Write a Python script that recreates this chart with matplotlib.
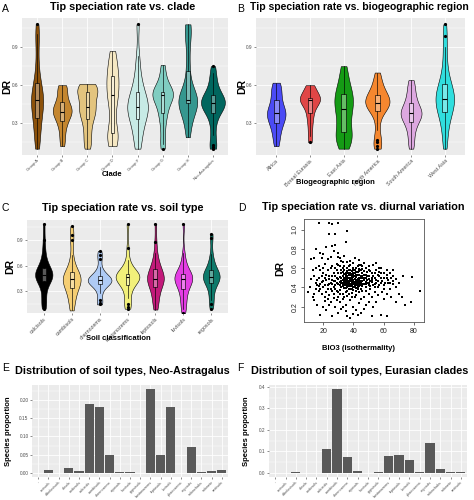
import matplotlib
matplotlib.use("Agg")
import matplotlib.pyplot as plt
import numpy as np

plt.rcParams['font.family'] = ['Liberation Sans', 'DejaVu Sans']

# ---------------- data ----------------
clades = ["Group A", "Group B", "Group C", "Group D", "Group F", "Group G", "Group H", "Neo-Astragalus"]
clade_colors = ['#8C510A', '#C4862F', '#E3C47E', '#F6E8C3', '#C7EAE5', '#80CDC1', '#35978F', '#01665E']
clade_widths = [0.48, 0.75, 0.80, 0.48, 0.82, 0.82, 0.75, 0.95]
clade_dr = [
    [0.10, 0.14, 0.20, 0.26, 0.30, 0.33, 0.37, 0.41, 0.44, 0.46, 0.47, 0.49, 0.51, 0.53, 0.56, 0.58, 0.63, 0.70, 0.80, 0.95, 1.00, 1.08],
    [0.12, 0.17, 0.22, 0.27, 0.30, 0.32, 0.35, 0.37, 0.38, 0.39, 0.39, 0.41, 0.42, 0.44, 0.46, 0.47, 0.50, 0.54, 0.57, 0.59, 0.60],
    [0.10, 0.14, 0.19, 0.24, 0.29, 0.33, 0.36, 0.38, 0.40, 0.42, 0.43, 0.46, 0.49, 0.52, 0.54, 0.55, 0.57, 0.58, 0.59, 0.60, 0.61],
    [0.12, 0.15, 0.18, 0.20, 0.21, 0.22, 0.30, 0.40, 0.46, 0.50, 0.52, 0.55, 0.58, 0.62, 0.65, 0.67, 0.70, 0.74, 0.78, 0.83, 0.87],
    [0.10, 0.15, 0.21, 0.26, 0.30, 0.33, 0.36, 0.39, 0.40, 0.42, 0.43, 0.45, 0.47, 0.49, 0.52, 0.55, 0.59, 0.64, 0.72, 0.83, 1.08],
    [0.10, 0.14, 0.22, 0.30, 0.35, 0.38, 0.42, 0.45, 0.48, 0.50, 0.52, 0.52, 0.53, 0.54, 0.55, 0.55, 0.57, 0.60, 0.64, 0.70, 0.76],
    [0.19, 0.26, 0.33, 0.38, 0.43, 0.46, 0.46, 0.47, 0.47, 0.48, 0.48, 0.49, 0.50, 0.52, 0.58, 0.71, 0.80, 0.95, 1.02, 1.06, 1.08],
    [0.10, 0.11, 0.13, 0.21, 0.28, 0.33, 0.38, 0.40, 0.41, 0.43, 0.44, 0.45, 0.46, 0.47, 0.47, 0.48, 0.49, 0.50, 0.52, 0.54, 0.57, 0.61, 0.65, 0.70, 0.75],
]

regions = ["Africa", "Boreal Eurasia", "East Asia", "North America", "South America", "West Asia"]
region_colors = ['#4B4BF5', '#E04646', '#159B15', '#F5872F', '#DDA8E0', '#30DEDE']
region_widths = [0.55, 0.60, 0.55, 0.72, 0.62, 0.55]
region_dr = [
    [0.12, 0.17, 0.21, 0.25, 0.28, 0.30, 0.32, 0.34, 0.36, 0.37, 0.38, 0.39, 0.41, 0.43, 0.45, 0.48, 0.51, 0.54, 0.57, 0.60, 0.62],
    [0.15, 0.20, 0.26, 0.31, 0.35, 0.38, 0.41, 0.44, 0.46, 0.47, 0.48, 0.49, 0.49, 0.50, 0.50, 0.50, 0.53, 0.55, 0.57, 0.59, 0.60],
    [0.10, 0.13, 0.16, 0.19, 0.21, 0.23, 0.27, 0.31, 0.35, 0.38, 0.41, 0.44, 0.46, 0.48, 0.51, 0.53, 0.56, 0.59, 0.63, 0.69, 0.75],
    [0.10, 0.12, 0.15, 0.17, 0.25, 0.32, 0.40, 0.41, 0.42, 0.43, 0.44, 0.45, 0.46, 0.47, 0.48, 0.49, 0.50, 0.51, 0.52, 0.54, 0.56, 0.59, 0.62, 0.66, 0.70],
    [0.10, 0.15, 0.20, 0.25, 0.28, 0.31, 0.33, 0.35, 0.36, 0.37, 0.38, 0.39, 0.40, 0.42, 0.44, 0.46, 0.49, 0.52, 0.56, 0.60, 0.64],
    [0.10, 0.17, 0.24, 0.30, 0.35, 0.37, 0.39, 0.42, 0.44, 0.46, 0.48, 0.49, 0.49, 0.51, 0.53, 0.55, 0.58, 0.60, 0.61, 0.66, 0.72, 0.80, 0.90, 0.99, 1.08],
]

soils = ["calcisols", "cambisols", "chernozems", "kastanozems", "leptosols", "luvisols", "regosols"]
soil_colors = ['#000000', '#F5CE73', '#AFCBF5', '#F2F07A', '#C21A7A', '#E33DE3', '#0E7A6B']
soil_widths = [0.62, 0.64, 0.85, 0.85, 0.60, 0.64, 0.60]
soil_dr = [
    [0.10, 0.14, 0.18, 0.25, 0.32, 0.38, 0.42, 0.44, 0.45, 0.46, 0.47, 0.48, 0.49, 0.50, 0.51, 0.52, 0.54, 0.55, 0.57, 0.60, 0.64, 0.70, 0.78, 0.90, 1.08],
    [0.08, 0.13, 0.19, 0.24, 0.28, 0.31, 0.34, 0.37, 0.39, 0.41, 0.42, 0.43, 0.44, 0.45, 0.47, 0.48, 0.50, 0.51, 0.53, 0.57, 0.63, 0.72, 0.90, 0.95, 1.06],
    [0.15, 0.17, 0.20, 0.28, 0.33, 0.36, 0.39, 0.40, 0.40, 0.41, 0.42, 0.42, 0.43, 0.43, 0.44, 0.45, 0.46, 0.47, 0.48, 0.50, 0.53, 0.58, 0.68, 0.72, 0.77],
    [0.10, 0.12, 0.15, 0.22, 0.28, 0.33, 0.37, 0.40, 0.42, 0.44, 0.45, 0.46, 0.47, 0.47, 0.48, 0.48, 0.49, 0.49, 0.50, 0.52, 0.55, 0.60, 0.66, 0.80, 1.08],
    [0.09, 0.14, 0.19, 0.24, 0.28, 0.32, 0.35, 0.38, 0.40, 0.42, 0.43, 0.44, 0.45, 0.46, 0.48, 0.50, 0.52, 0.54, 0.56, 0.59, 0.63, 0.68, 0.75, 0.88, 1.08],
    [0.05, 0.10, 0.15, 0.20, 0.25, 0.29, 0.33, 0.36, 0.38, 0.40, 0.42, 0.44, 0.45, 0.46, 0.46, 0.47, 0.48, 0.49, 0.50, 0.53, 0.56, 0.60, 0.66, 0.75, 1.08],
    [0.10, 0.15, 0.20, 0.26, 0.31, 0.36, 0.40, 0.42, 0.43, 0.44, 0.45, 0.46, 0.47, 0.48, 0.49, 0.50, 0.52, 0.53, 0.55, 0.58, 0.62, 0.67, 0.74, 0.92, 0.97],
]

# (BIO3, DR) pairs
diurnal_points = [
    (17,1.07),(24,1.07),(26,1.06),(30,1.07),(24,0.95),(28,0.95),(36,0.99),(35,0.87),(15,0.80),(18,0.76),
    (20,0.75),(22,0.82),(26,0.83),(28,0.84),(27,0.78),(30,0.76),(25,0.72),(14,0.70),(12,0.69),(19,0.70),
    (23,0.69),(31,0.70),(34,0.73),(38,0.67),(40,0.65),(33,0.66),(29,0.64),(17,0.62),(21,0.64),(45,0.63),
    (50,0.62),(55,0.65),(58,0.60),(62,0.58),(66,0.52),(73,0.52),(79,0.51),(84,0.36),(78,0.25),(68,0.25),
    (65,0.30),(70,0.45),(68,0.49),(60,0.55),(63,0.45),(59,0.35),(55,0.25),(52,0.30),(48,0.22),(58,0.11),
    (62,0.10),(52,0.10),(45,0.13),(40,0.12),(35,0.15),(30,0.13),(26,0.10),(18,0.11),(13,0.30),(11,0.40),
    (12,0.49),(10,0.35),(14,0.27),(16,0.22),(20,0.20),(22,0.16),(25,0.25),(28,0.20),(32,0.18),(36,0.10),
    (38,0.08),(42,0.17),(44,0.24),(38,0.27),(33,0.28),(30,0.30),(27,0.33),(22,0.35),(18,0.38),(15,0.45),
    (17,0.50),(20,0.55),(23,0.58),(25,0.60),(19,0.46),(21,0.42),(24,0.44),(26,0.48),(28,0.52),(27,0.40),
    (29,0.36),(31,0.42),(30,0.49),(32,0.55),(33,0.60),(34,0.50),(35,0.45),(36,0.40),(35,0.35),(37,0.55),
    (38,0.50),(39,0.46),(40,0.43),(41,0.52),(42,0.48),(37,0.45),(36,0.52),(38,0.58),(39,0.38),(40,0.55),
    (41,0.40),(42,0.56),(43,0.45),(44,0.50),(45,0.42),(46,0.55),(47,0.48),(48,0.40),(49,0.52),(50,0.45),
    (51,0.57),(52,0.50),(53,0.42),(54,0.55),(55,0.48),(56,0.40),(57,0.52),(58,0.45),(60,0.42),(62,0.50),
    (64,0.38),(66,0.43),(54,0.35),(50,0.33),(47,0.30),(44,0.35),(41,0.30),(43,0.38),(46,0.36),(48,0.60),
    (45,0.58),(43,0.62),(40,0.60),(37,0.62),(34,0.58),(31,0.62),(29,0.58),(27,0.55),(24,0.52),(22,0.48),
    (20,0.40),(23,0.38),(26,0.36),(29,0.45),(32,0.47),(33,0.43),(34,0.39),(36,0.48),(37,0.50),(38,0.44),
    (39,0.54),(40,0.48),(41,0.46),(42,0.42),(35,0.55),(36,0.57),(38,0.53),(39,0.50),(40,0.51),(37,0.47),
    (35,0.49),(34,0.46),(33,0.52),(32,0.40),(31,0.37),(30,0.55),(28,0.47),(26,0.43),(25,0.38),(24,0.32),
    (23,0.28),(21,0.30),(19,0.33),(17,0.36),(16,0.42),(14,0.52),(13,0.58),(15,0.60),(18,0.58),(37,0.33),
    (39,0.30),(42,0.32),(45,0.28),(35,0.22),(33,0.20),(31,0.25),(29,0.27),(40,0.20),(43,0.11),(47,0.18),
    (50,0.25),(53,0.20),(56,0.32),(60,0.28),(62,0.33),(64,0.55),(66,0.58),(68,0.40),(70,0.33),(72,0.30),
    (74,0.22),(57,0.60),(53,0.63),(47,0.65),(44,0.68),(41,0.70),(36,0.66),(32,0.67),(30,0.71),(39,0.41),
    (38,0.47),(41,0.49),(43,0.53),(44,0.46),(46,0.50),(45,0.47),(43,0.49),(42,0.51),(40,0.46),(39,0.44),
    (38,0.41),(37,0.38),(36,0.44),(35,0.51),(34,0.54),(33,0.48),(36,0.36),(40,0.37),(42,0.39),(44,0.41),
    (46,0.44),(48,0.46),(50,0.49),(52,0.46),(54,0.44),(56,0.47),(58,0.50),(49,0.56),(47,0.53),(51,0.41),
    (48,0.50),(46,0.59),(44,0.57),(55,0.58),(57,0.56),(59,0.47),(61,0.45),(63,0.48),(65,0.50),
    (30,0.44),(31,0.51),(32,0.45),(33,0.56),(34,0.42),(35,0.47),(36,0.50),(37,0.53),(38,0.49),(39,0.52),
    (40,0.44),(41,0.55),(42,0.46),(43,0.42),(44,0.53),(45,0.50),(46,0.47),(47,0.44),(48,0.53),(49,0.48),
    (31,0.46),(32,0.50),(33,0.45),(34,0.48),(35,0.42),(36,0.46),(37,0.43),(38,0.55),(39,0.48),(40,0.53),
    (41,0.44),(42,0.53),(43,0.47),(44,0.44),(45,0.52),(46,0.41),(47,0.57),(48,0.43),(50,0.52),(51,0.47),
    (29,0.50),(28,0.42),(27,0.47),(26,0.52),(25,0.45),(24,0.49),(23,0.42),(22,0.53),(21,0.50),(20,0.47),
    (19,0.52),(18,0.44),(17,0.41),(16,0.48),(15,0.38),(14,0.33),(21,0.26),(24,0.22),(27,0.29),(30,0.35),
    (33,0.33),(36,0.31),(39,0.34),(42,0.36),(45,0.38),(48,0.36),(51,0.38),(54,0.40),(57,0.42),(60,0.38),
    (26,0.62),(28,0.60),(30,0.63),(32,0.58),(34,0.62),(36,0.60),(38,0.63),(40,0.58),(42,0.60),(44,0.63),
    (46,0.62),(50,0.58),(52,0.55),(54,0.50),(56,0.53),(58,0.55),(60,0.50),(62,0.53),(64,0.45),(66,0.47),
    (36,0.42),(37,0.41),(38,0.38),(35,0.39),(34,0.44),(33,0.41),(41,0.42),(43,0.40),(44,0.48),(45,0.45),
    (35,0.53),(36,0.55),(37,0.58),(39,0.57),(40,0.40),(41,0.58),(42,0.44),(43,0.56),(44,0.59),(46,0.52),
    (47,0.50),(49,0.45),(50,0.42),(52,0.48),(53,0.52),(55,0.45),(28,0.38),(31,0.33),(34,0.30),(20,0.60),
]
bio3 = [p[0] for p in diurnal_points]
dr_diurnal = [p[1] for p in diurnal_points]

soil_types = ["-", "acrisols", "albeluvisols", "alisols", "andosols", "calcisols", "cambisols",
              "chernozems", "cryosols", "fluvisols", "gypsisols", "kastanozems", "leptosols",
              "luvisols", "phaeozems", "regosols", "solonchaks", "solonetz", "vertisols"]
prop_neo = [0.0, 0.008, 0.0, 0.013, 0.005, 0.190, 0.180, 0.050, 0.001, 0.003, 0.0, 0.230, 0.050,
            0.182, 0.0, 0.072, 0.003, 0.005, 0.008]
prop_eur = [0.0, 0.0, 0.005, 0.0, 0.0, 0.112, 0.390, 0.073, 0.010, 0.0, 0.002, 0.078, 0.085,
            0.058, 0.005, 0.138, 0.020, 0.005, 0.002]

# ---------------- figure ----------------
W, H = 474, 500
fig = plt.figure(figsize=(W / 100, H / 100), dpi=100)


def axes_px(l, t, r, b):
    return fig.add_axes([l / W, 1 - b / H, (r - l) / W, (b - t) / H])


def txt(x, y, s, **kw):
    fig.text(x / W, 1 - y / H, s, **kw)


def gg_style(ax, n, labels, lab_fs):
    ax.set_facecolor('#EBEBEB')
    for s in ax.spines.values():
        s.set_visible(False)
    ax.set_xlim(0.4, n + 0.6)
    ax.set_xticks(np.arange(1, n + 1))
    ax.set_xticklabels(labels, rotation=45, ha='right', rotation_mode='anchor',
                       fontsize=lab_fs, color='#4D4D4D')
    ax.grid(which='major', color='white', lw=0.6)
    ax.grid(which='minor', axis='y', color='white', lw=0.3)
    ax.set_axisbelow(True)
    ax.tick_params(which='major', length=1.5, width=0.4, color='#333333', pad=1.0)
    ax.tick_params(which='minor', length=0)
    ax.tick_params(axis='y', labelsize=3.4, labelcolor='#4D4D4D')


def violin_panel(ax, data, colors, widths, labels, lab_fs):
    pos = np.arange(1, len(data) + 1)
    vp = ax.violinplot(data, positions=pos, widths=widths, showextrema=False,
                       bw_method=0.38, points=200)
    for body, c in zip(vp['bodies'], colors):
        body.set_facecolor(c)
        body.set_edgecolor('black')
        body.set_linewidth(0.4)
        body.set_alpha(1)
    ax.boxplot(data, positions=pos, widths=0.14, patch_artist=True, showcaps=False,
               whis=1.5, manage_ticks=False,
               boxprops=dict(facecolor=(1, 1, 1, 0.35), edgecolor='black', linewidth=0.45),
               whiskerprops=dict(color='black', linewidth=0.45),
               medianprops=dict(color='black', linewidth=0.8),
               flierprops=dict(marker='o', markerfacecolor='black', markeredgecolor='black',
                               markersize=1.3, linestyle='none'))
    gg_style(ax, len(data), labels, lab_fs)
    ax.set_ylim(0.05, 1.13)
    ax.set_yticks([0.3, 0.6, 0.9])
    ax.set_yticklabels(['0.3', '0.6', '0.9'])
    ax.set_yticks([0.15, 0.45, 0.75, 1.05], minor=True)


title_kw = dict(fontsize=7.8, fontweight='bold', ha='center', va='center')
letter_kw = dict(fontsize=7.5, ha='left', va='center')
axlab_kw = dict(fontsize=5.5, fontweight='bold', ha='center', va='center')
dr_kw = dict(fontsize=7.5, fontweight='bold', ha='center', va='center', rotation=90)

# ---- A ----
axA = axes_px(22, 18, 228, 155)
violin_panel(axA, clade_dr, clade_colors, clade_widths, clades, 3.0)
txt(2, 9, "A", **letter_kw)
txt(123, 7, "Tip speciation rate vs. clade", **title_kw)
txt(7, 87, "DR", **dr_kw)
txt(112, 174, "Clade", **axlab_kw)

# ---- B ----
axB = axes_px(256, 18, 465, 155)
violin_panel(axB, region_dr, region_colors, region_widths, regions, 3.9)
txt(237, 9, "B", **letter_kw)
txt(359, 7, "Tip speciation rate vs. biogeographic region", fontsize=7.5, fontweight='bold',
    ha='center', va='center')
txt(242, 87, "DR", **dr_kw)
txt(335, 182, "Biogeographic region", **axlab_kw)

# ---- C ----
axC = axes_px(27, 220, 228, 313)
violin_panel(axC, soil_dr, soil_colors, soil_widths, soils, 3.9)
txt(2, 208, "C", **letter_kw)
txt(123, 208, "Tip speciation rate vs. soil type", **title_kw)
txt(10, 266, "DR", **dr_kw)
txt(118, 338, "Soil classification", **axlab_kw)

# ---- D ----
axD = axes_px(304, 219, 424, 322)
axD.scatter(bio3, dr_diurnal, s=2.0, color='black', marker='s', linewidths=0)
axD.margins(x=0.04, y=0.04)
axD.set_xticks([20, 40, 60, 80])
axD.set_yticks([0.2, 0.4, 0.6, 0.8, 1.0])
axD.set_yticklabels(['0.2', '0.4', '0.6', '0.8', '1.0'], rotation=90, va='center')
axD.tick_params(labelsize=5, length=2.5, width=0.5, pad=1.5, color='#333333', labelcolor='#222222')
for s in axD.spines.values():
    s.set_linewidth(0.6)
    s.set_color('#555555')
txt(238, 208, "D", **letter_kw)
txt(363, 207, "Tip speciation rate vs. diurnal variation", **title_kw)
txt(280, 268, "DR", **dr_kw)
txt(359, 348, "BIO3 (isothermality)", **axlab_kw)


# ---- E / F ----
def bar_panel(ax, values, ymaj, ymin_ticks, ylabels):
    x = np.arange(1, len(values) + 1)
    ax.bar(x, values, width=0.9, color='#595959', linewidth=0)
    gg_style(ax, len(values), soil_types, 2.7)
    top = max(values)
    ax.set_ylim(-0.05 * top, 1.05 * top)
    ax.set_yticks(ymaj)
    ax.set_yticklabels(ylabels)
    ax.set_yticks(ymin_ticks, minor=True)


axE = axes_px(32, 385, 228, 477)
bar_panel(axE, prop_neo, [0, 0.05, 0.10, 0.15, 0.20], [0.025, 0.075, 0.125, 0.175, 0.225],
          ['0.00', '0.05', '0.10', '0.15', '0.20'])
txt(2, 368, "E", **letter_kw)
txt(122, 371, "Distribution of soil types, Neo-Astragalus", **title_kw)
txt(9, 431, "Species proportion", rotation=90, **axlab_kw)

axF = axes_px(269, 385, 467, 477)
bar_panel(axF, prop_eur, [0, 0.1, 0.2, 0.3, 0.4], [0.05, 0.15, 0.25, 0.35],
          ['0.0', '0.1', '0.2', '0.3', '0.4'])
txt(237, 368, "F", **letter_kw)
txt(360, 371, "Distribution of soil types, Eurasian clades", **title_kw)
txt(246, 431, "Species proportion", rotation=90, **axlab_kw)

fig.savefig("out.png", dpi=100)
